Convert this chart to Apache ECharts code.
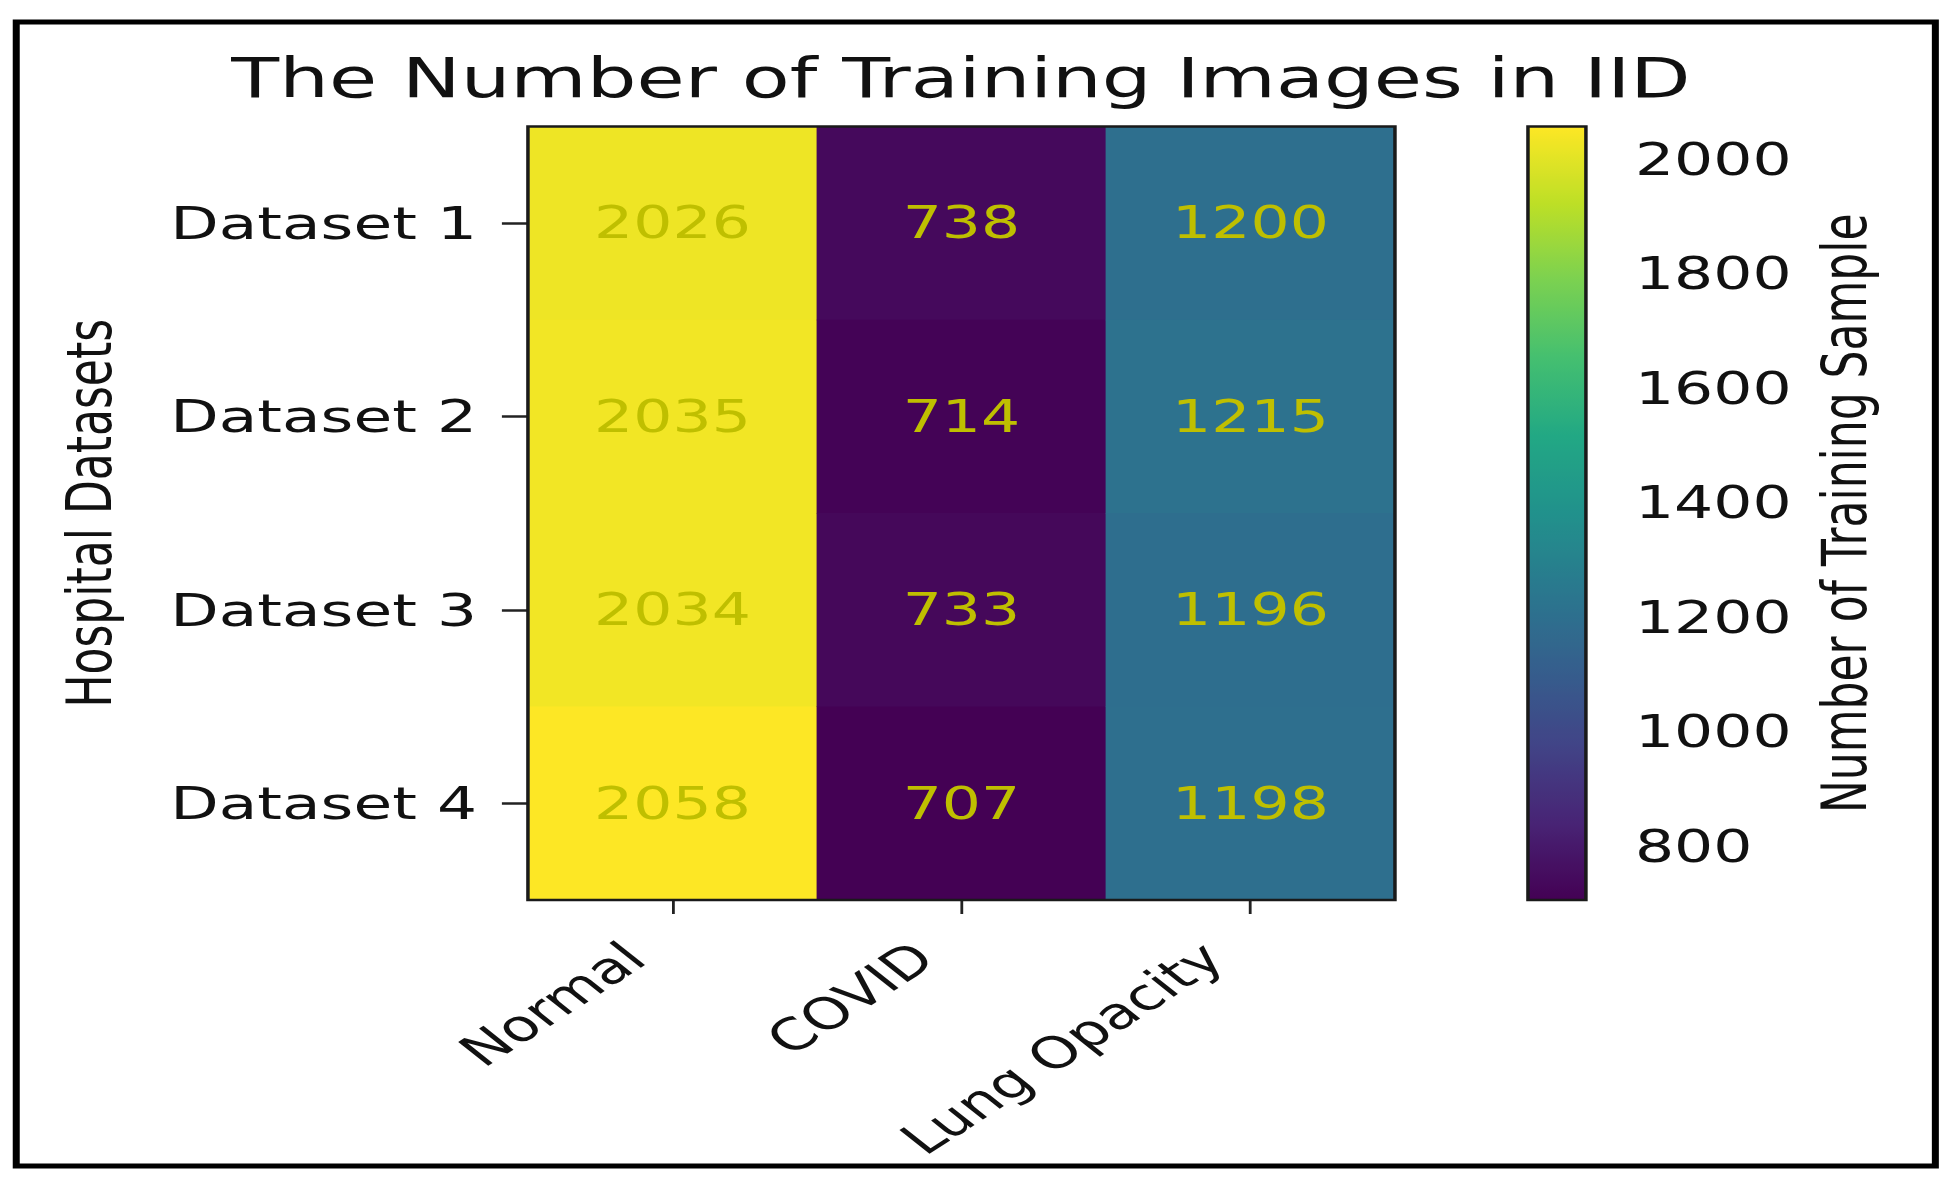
<!DOCTYPE html>
<html>
<head>
<meta charset="utf-8">
<script src="https://cdn.jsdelivr.net/npm/echarts@6/dist/echarts.min.js"></script>
<style>
  html, body { margin: 0; padding: 0; background: #ffffff; overflow: hidden; }
  #chart { position: absolute; left: 0; top: 0; width: 1395px; height: 1179px;
           transform: scaleX(1.4); transform-origin: 0 0; }
</style>
</head>
<body>
<div id="chart"></div>
<script>
// ---- data ----
const categories = ['Normal', 'COVID', 'Lung Opacity'];
const datasets = ['Dataset 1', 'Dataset 2', 'Dataset 3', 'Dataset 4'];
const normalCounts = [2026, 2035, 2034, 2058];
const covidCounts = [738, 714, 733, 707];
const lungOpacityCounts = [1200, 1215, 1196, 1198];
const colorbarTicks = [800, 1000, 1200, 1400, 1600, 1800, 2000];
const colorMin = 707;
const colorMax = 2058;

const viridis = ['#440154', '#482475', '#414487', '#355f8d', '#2a788e', '#21918c',
                 '#22a884', '#44bf70', '#7ad151', '#bddf26', '#fde725'];

const columns = [normalCounts, covidCounts, lungOpacityCounts];
const heatData = [];
columns.forEach((col, xi) => {
  col.forEach((v, yi) => heatData.push([xi, yi, v]));
});

const FONT = 'DejaVu Sans';
const TXT = '#111111';

const chart = echarts.init(document.getElementById('chart'), null, { renderer: 'svg' });
chart.setOption({
  animation: false,
  backgroundColor: '#ffffff',
  title: {
    text: 'The Number of Training Images in IID',
    left: 686.4, top: 50, textAlign: 'center', padding: 0,
    textStyle: { fontFamily: FONT, fontSize: 56, fontWeight: 'normal', color: TXT, lineHeight: 56 }
  },
  graphic: [{
    type: 'rect', silent: true, z: 100,
    shape: { x: 11.6, y: 22, width: 1370.8, height: 1144 },
    style: { fill: 'none', stroke: '#000000', lineWidth: 5 }
  }],
  grid: [
    { left: 377.1, top: 126.5, width: 619.3, height: 773.5, show: true, z: 5,
      borderColor: '#1a1a1a', borderWidth: 2.5, backgroundColor: 'transparent' },
    { left: 1091.4, top: 126.5, width: 41.4, height: 773.5, show: true, z: 10,
      borderColor: '#1a1a1a', borderWidth: 2.5, backgroundColor: 'transparent' }
  ],
  xAxis: [
    { type: 'category', gridIndex: 0, data: categories, position: 'bottom',
      axisLine: { show: false },
      axisTick: { show: true, alignWithLabel: true, length: 14, lineStyle: { color: '#222', width: 2 } },
      splitLine: { show: false },
      axisLabel: { rotate: 42, margin: 27, padding: [0, 36, 0, 0], interval: 0,
                   fontFamily: FONT, fontSize: 44, color: TXT } },
    { type: 'value', gridIndex: 1, show: false }
  ],
  yAxis: [
    { type: 'category', gridIndex: 0, data: datasets, inverse: true,
      name: 'Hospital Datasets', nameLocation: 'middle', nameGap: 312.8,
      nameTextStyle: { fontFamily: FONT, fontSize: 44, color: TXT, verticalAlign: 'middle' },
      axisLine: { show: false },
      axisTick: { show: true, alignWithLabel: true, length: 18.6, lineStyle: { color: '#222', width: 2.5 } },
      splitLine: { show: false },
      axisLabel: { margin: 36.4, fontFamily: FONT, fontSize: 45, color: TXT } },
    { type: 'value', gridIndex: 1, position: 'right', min: colorMin, max: colorMax,
      name: 'Number of Training Sample', nameLocation: 'middle', nameGap: 184.6,
      nameTextStyle: { fontFamily: FONT, fontSize: 44, color: TXT, verticalAlign: 'middle' },
      axisLine: { show: false },
      splitLine: { show: false },
      axisTick: { show: true, length: 18, customValues: colorbarTicks,
                  lineStyle: { color: '#222', width: 2.5 } },
      axisLabel: { margin: 35, customValues: colorbarTicks, formatter: v => String(v),
                   fontFamily: FONT, fontSize: 44, color: TXT } }
  ],
  visualMap: {
    type: 'continuous', min: colorMin, max: colorMax, dimension: 2, seriesIndex: 0,
    orient: 'vertical', left: 1091.4, top: 126.5, itemWidth: 41.4, itemHeight: 773.5,
    padding: 0, calculable: false, hoverLink: false, text: null, showLabel: false,
    inRange: { color: viridis }
  },
  series: [{
    type: 'heatmap', xAxisIndex: 0, yAxisIndex: 0, data: heatData,
    label: { show: true, fontFamily: FONT, fontSize: 44, color: '#bfbf00',
             formatter: p => String(p.value[2]) },
    emphasis: { disabled: true },
    itemStyle: { borderWidth: 0 }
  }]
});
</script>
</body>
</html>
